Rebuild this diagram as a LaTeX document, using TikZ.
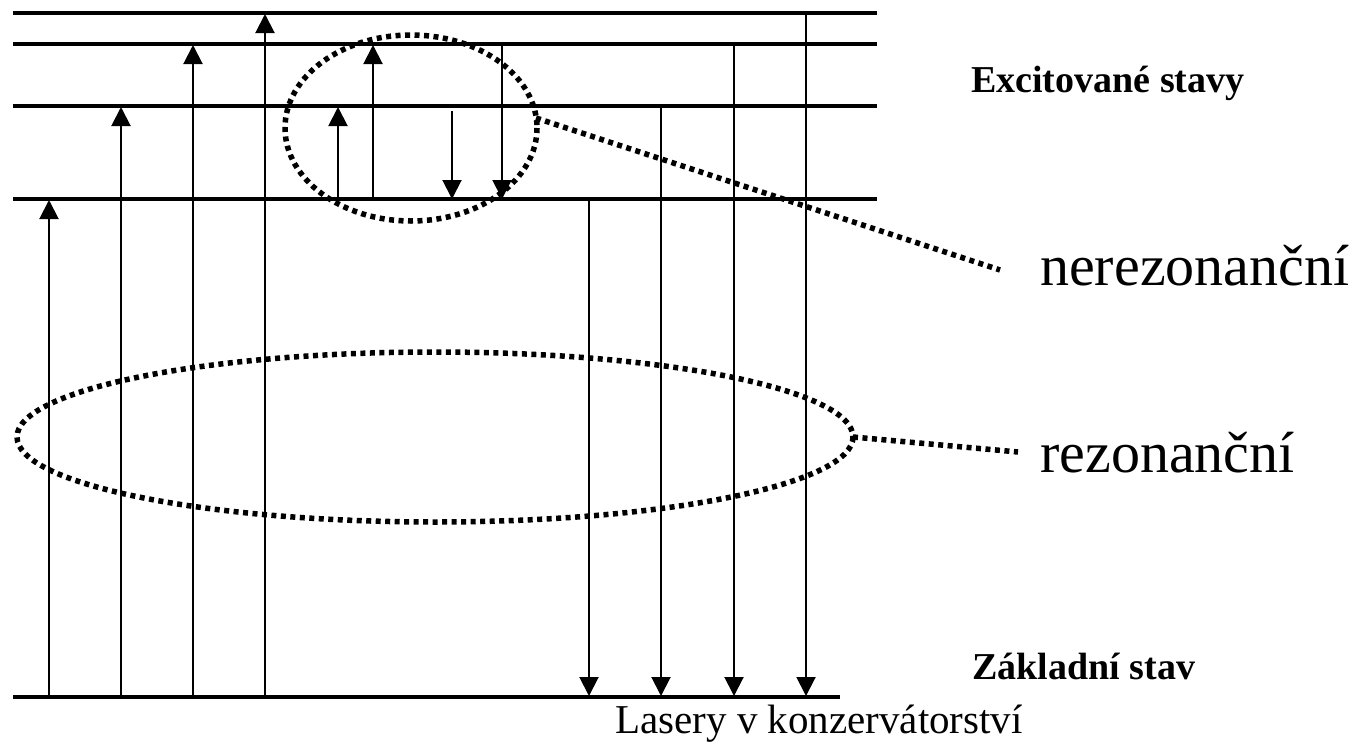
\documentclass[tikz,border=0pt]{standalone}
\usepackage{fontspec}
\setmainfont{Liberation Serif}
\usetikzlibrary{arrows.meta}
\begin{document}
\begin{tikzpicture}[x=1pt,y=-1pt,
  level/.style={line width=3.2pt},
  trans/.style={line width=2pt,-{Triangle[length=19pt,width=19pt]}},
  dotline/.style={line width=5.5pt,dash pattern=on 5pt off 4.5pt},
  lbl/.style={anchor=base west,inner sep=0pt},
  statelbl/.style={lbl,font=\fontsize{38}{38}\selectfont\bfseries},
  biglbl/.style={lbl,font=\fontsize{58}{58}\selectfont}]
\useasboundingbox (0,0) rectangle (1356,744);
% levels
\coordinate (L1w) at (13,13);  \coordinate (L1e) at (877,13);
\coordinate (L2w) at (13,44);  \coordinate (L2e) at (877,44);
\coordinate (L3w) at (13,106); \coordinate (L3e) at (877,106);
\coordinate (L4w) at (13,199); \coordinate (L4e) at (877,199);
\coordinate (G w) at (13,697); \coordinate (G e) at (840,697);
\draw[level] (L1w) -- (L1e);
\draw[level] (L2w) -- (L2e);
\draw[level] (L3w) -- (L3e);
\draw[level] (L4w) -- (L4e);
\draw[level] (G w) -- (G e);
% upward transitions from ground
\coordinate (u1a) at (49,697);  \coordinate (u1b) at (49,200);
\coordinate (u2a) at (121,697); \coordinate (u2b) at (121,107);
\coordinate (u3a) at (193,697); \coordinate (u3b) at (193,45);
\coordinate (u4a) at (265,697); \coordinate (u4b) at (265,14);
\draw[trans] (u1a) -- (u1b);
\draw[trans] (u2a) -- (u2b);
\draw[trans] (u3a) -- (u3b);
\draw[trans] (u4a) -- (u4b);
% transitions between excited states
\coordinate (s1a) at (338,199); \coordinate (s1b) at (338,107);
\coordinate (s2a) at (373,199); \coordinate (s2b) at (373,45);
\coordinate (s3a) at (452,111); \coordinate (s3b) at (452,199);
\coordinate (s4a) at (502,44);  \coordinate (s4b) at (502,199);
\draw[trans] (s1a) -- (s1b);
\draw[trans] (s2a) -- (s2b);
\draw[trans] (s3a) -- (s3b);
\draw[trans] (s4a) -- (s4b);
% downward transitions to ground
\coordinate (d1a) at (589,199); \coordinate (d1b) at (589,696);
\coordinate (d2a) at (661,106); \coordinate (d2b) at (661,696);
\coordinate (d3a) at (734,44);  \coordinate (d3b) at (734,696);
\coordinate (d4a) at (806,13);  \coordinate (d4b) at (806,696);
\draw[trans] (d1a) -- (d1b);
\draw[trans] (d2a) -- (d2b);
\draw[trans] (d3a) -- (d3b);
\draw[trans] (d4a) -- (d4b);
% ellipses
\draw[dotline] (411,128) ellipse [x radius=126, y radius=93];
\draw[dotline] (435,437) ellipse [x radius=418, y radius=85];
\coordinate (e1r) at (536,118);
\coordinate (e2r) at (853,437);
% labels
\node[statelbl] (exc) at (971,92) {Excitované stavy};
\node[statelbl] (zak) at (972,679) {Základní stav};
\node[biglbl] (nerez) at (1040,285) {nerezonanční};
\node[biglbl] (rez) at (1040,472) {rezonanční};
\node[lbl,font=\fontsize{41}{41}\selectfont] (foot) at (615,733) {Lasery v konzervátorství};
\coordinate (n1) at (1000,270);
\coordinate (n2) at (1018,452);
\draw[dotline] (e1r) -- (n1);
\draw[dotline] (e2r) -- (n2);
\end{tikzpicture}
\end{document}
